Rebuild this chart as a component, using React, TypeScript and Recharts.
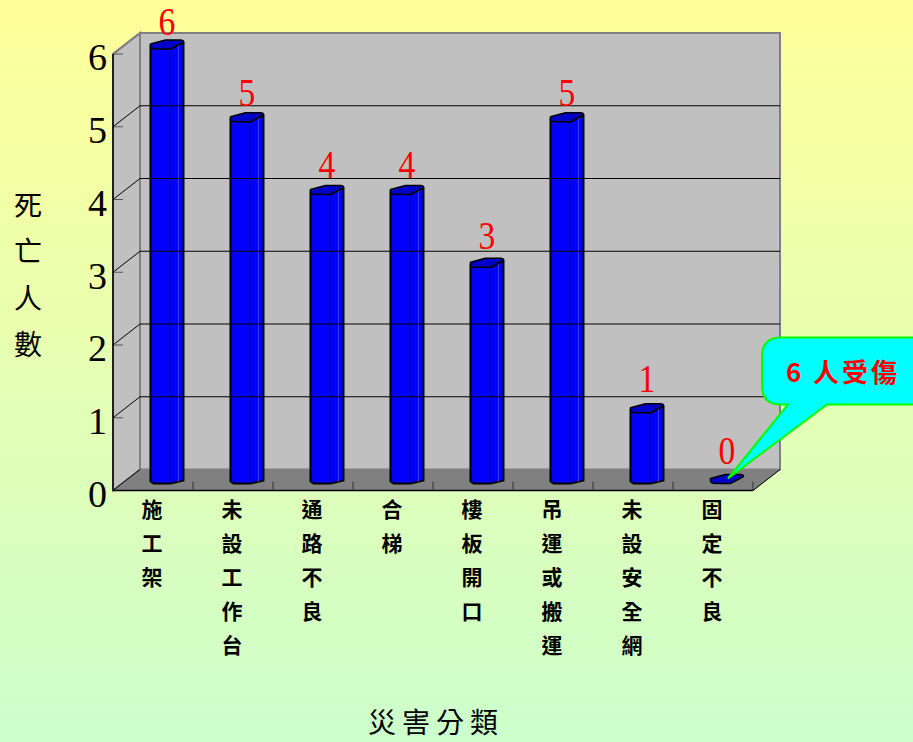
import { BarChart, Bar, XAxis, YAxis, LabelList, Label, ReferenceArea, ReferenceLine, ReferenceDot } from "recharts";

const categories = ["施工架", "未設工作台", "通路不良", "合梯", "樓板開口", "吊運或搬運", "未設安全網", "固定不良"];
const deaths = [6, 5, 4, 4, 3, 5, 1, 0];
const yTicks = [0, 1, 2, 3, 4, 5, 6];
const yTitle = "死亡人數";
const xTitle = "災害分類";
const calloutText = "6 人受傷";
const calloutCategory = "固定不良";

const data = categories.map((name, i) => ({ name, deaths: deaths[i] }));

const CJK = "'Noto Sans CJK TC', sans-serif";
const SERIF = "'Liberation Serif', serif";

// 3d offset of the back wall
const DX = 27;
const DY = 21;

function Walls({ x, y, width, height }: any) {
	const r = x + width;
	const b = y + height;
	const step = width / categories.length;
	return (
		<g>
			<polygon points={`${x + DX},${y - DY} ${r + DX},${y - DY} ${r + DX},${b - DY} ${x + DX},${b - DY}`} fill="#c0c0c0" stroke="#808080" strokeWidth={2} />
			<polygon points={`${x},${y} ${x + DX},${y - DY} ${x + DX},${b - DY} ${x},${b}`} fill="#c0c0c0" stroke="#808080" strokeWidth={2} />
			<polygon points={`${x},${b} ${x + DX},${b - DY} ${r + DX},${b - DY} ${r},${b}`} fill="#808080" stroke="#808080" />
			<line x1={r} y1={b} x2={r + DX} y2={b - DY} stroke="#000" strokeWidth={1} />
			{categories.map((c, i) => (
				<line key={c} x1={x + step * (i + 1)} y1={b} x2={x + step * (i + 1)} y2={b - 9} stroke="#333" strokeWidth={1} />
			))}
		</g>
	);
}

function GridLine3D({ x1, x2, y1, value }: any) {
	return (
		<g>
			{value > 0 && value < 6 && <line x1={x1 + DX} y1={y1 - DY} x2={x2 + DX} y2={y1 - DY} stroke="#000" strokeWidth={1} />}
			<line x1={x1} y1={y1} x2={x1 + DX} y2={y1 - DY} stroke={value === 6 ? "#808080" : "#000"} strokeWidth={value === 6 ? 2 : 1} />
			<line x1={x1} y1={y1} x2={x1 + 10} y2={y1} stroke="#555" strokeWidth={1} />
		</g>
	);
}

function Cylinder({ x, y, width, height }: any) {
	const left = x + 13.5;
	const base = y + height - 7;
	const rim = Math.min(y - 5, base);
	const X = (t: number) => left + t;
	const front = 20;
	const bodyEnd = Math.max(rim, base - 3);
	return (
		<g stroke="#000" strokeLinejoin="round">
			{height > 0 && (
				<>
					<polygon
						points={`${X(0)},${rim - 3} ${X(0)},${base - 2} ${X(3)},${base} ${X(front)},${base} ${X(width)},${bodyEnd} ${X(width)},${rim - 7} ${X(front)},${rim}`}
						fill="#0000ff"
						strokeWidth={2}
					/>
					<line x1={X(front)} y1={rim} x2={X(front)} y2={base} stroke="#0000c8" strokeWidth={1} />
					<line x1={X(front + 8)} y1={rim - 4} x2={X(front + 8)} y2={base - 2} stroke="#3a3aff" strokeWidth={1} />
				</>
			)}
			<path
				d={`M ${X(0)} ${rim - 5} L ${X(15)} ${rim - 9} H ${X(width - 3)} Q ${X(width)} ${rim - 9} ${X(width)} ${rim - 7} L ${X(front)} ${rim} H ${X(5)} Q ${X(0)} ${rim} ${X(0)} ${rim - 3} Z`}
				fill="#0000c8"
				strokeWidth={1.5}
			/>
		</g>
	);
}

function BarValue({ x, y, width, height, value }: any) {
	// the numbers sit a little closer to the taller bars
	const gap = 27 - (height / 437) * 8;
	const cx = x + 13.5 + width / 2;
	return (
		<text transform={`translate(${cx} ${y - gap}) scale(0.82 1)`} textAnchor="middle" fontFamily={SERIF} fontSize={41} fill="#ff0000">
			{value}
		</text>
	);
}

function CategoryTick({ x, y, payload }: any) {
	return (
		<g>
			{Array.from(payload.value as string).map((ch, i) => (
				<text key={i} x={x - 1} y={y + 18 + i * 34} textAnchor="middle" fontFamily={CJK} fontWeight={700} fontSize={21} fill="#000">
					{ch}
				</text>
			))}
		</g>
	);
}

function YTitle({ viewBox }: any) {
	const mid = viewBox.y + viewBox.height / 2;
	return (
		<g>
			{Array.from(yTitle).map((ch, i) => (
				<text key={i} x={28} y={mid + (i - 1.5) * 46.5 + 13} textAnchor="middle" fontFamily={CJK} fontSize={28} fill="#000">
					{ch}
				</text>
			))}
		</g>
	);
}

function XTitle({ viewBox }: any) {
	const mid = viewBox.x + viewBox.width / 2;
	return (
		<g>
			{Array.from(xTitle).map((ch, i) => (
				<text key={i} x={mid + (i - 1.5) * 34} y={733} textAnchor="middle" fontFamily={CJK} fontSize={28} fill="#000">
					{ch}
				</text>
			))}
		</g>
	);
}

function Callout({ cx, cy }: any) {
	const X = (t: number) => cx + t;
	const Y = (t: number) => cy + t;
	const path = `M ${X(68)} ${Y(-153)} H ${X(210)} Q ${X(226)} ${Y(-153)} ${X(226)} ${Y(-137)} V ${Y(-102)} Q ${X(226)} ${Y(-86)} ${X(210)} ${Y(-86)} H ${X(114)} L ${X(15)} ${Y(-12)} L ${X(75)} ${Y(-86)} H ${X(68)} Q ${X(49)} ${Y(-86)} ${X(49)} ${Y(-105)} V ${Y(-134)} Q ${X(49)} ${Y(-153)} ${X(68)} ${Y(-153)} Z`;
	return (
		<g>
			<path d={path} fill="#00ffff" stroke="#00ff00" strokeWidth={2} />
			<text x={X(130)} y={Y(-109)} textAnchor="middle" fontFamily={CJK} fontWeight={700} fontSize={26} fill="#ff0000" letterSpacing={3}>
				{calloutText}
			</text>
		</g>
	);
}

export default function App() {
	return (
		<div style={{ position: "absolute", left: 0, top: 0, width: 913, height: 742, overflow: "hidden", background: "linear-gradient(180deg, #ffff99 0%, #ccffcc 100%)" }}>
			<BarChart width={913} height={742} data={data} margin={{ top: 54, right: 160, bottom: 0, left: 0 }} barSize={33}>
				<XAxis dataKey="name" height={251.5} interval={0} tickLine={false} axisLine={{ stroke: "#000", strokeWidth: 1.5 }} tick={<CategoryTick />}>
					<Label content={<XTitle />} />
				</XAxis>
				<YAxis
					width={113}
					domain={[0, 6]}
					ticks={yTicks}
					interval={0}
					tickLine={false}
					tickMargin={0}
					axisLine={{ stroke: "#000", strokeWidth: 1.5 }}
					tick={{ fontFamily: SERIF, fontSize: 38, fill: "#000", dy: 3 }}
				>
					<Label content={<YTitle />} />
				</YAxis>
				<ReferenceArea y1={0} y2={6} shape={<Walls />} />
				{yTicks.map((v) => (
					<ReferenceLine key={v} y={v} shape={(p: any) => <GridLine3D {...p} value={v} />} />
				))}
				<Bar dataKey="deaths" shape={<Cylinder />} isAnimationActive={false}>
					<LabelList dataKey="deaths" content={<BarValue />} />
				</Bar>
				<ReferenceDot x={calloutCategory} y={0} r={0} shape={<Callout />} />
			</BarChart>
		</div>
	);
}
